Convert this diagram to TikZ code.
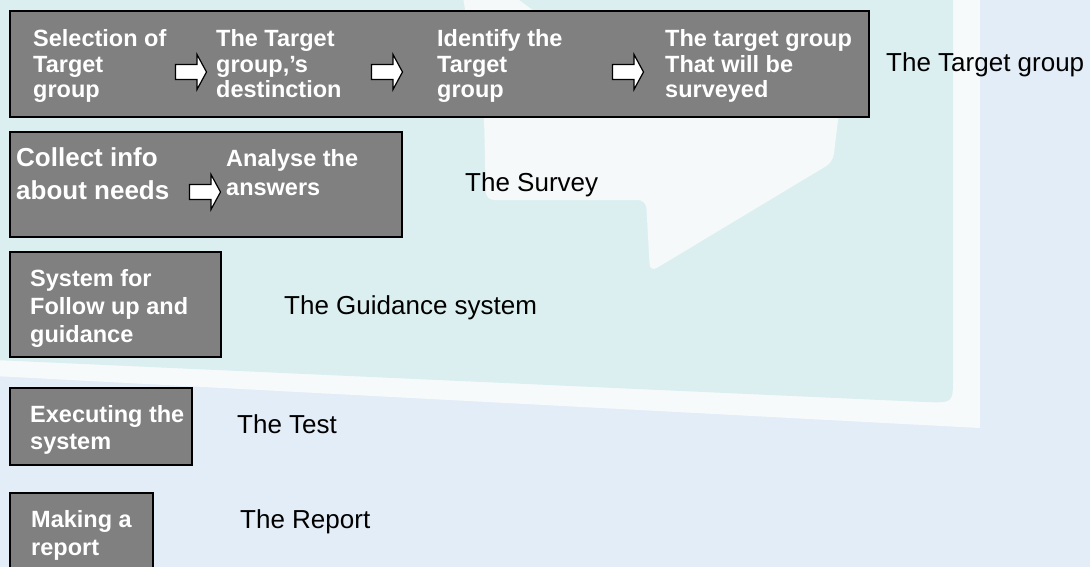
\documentclass[tikz,border=0pt]{standalone}
\usepackage{fontspec}
\setmainfont{Liberation Sans}

\definecolor{boxgray}{HTML}{808080}
\definecolor{signfill}{HTML}{DCEFF0}
\definecolor{backfill}{HTML}{E3EDF8}
\definecolor{signedge}{HTML}{F7FAFA}
\definecolor{signarrow}{HTML}{F6F9F9}

% small white block arrow between two steps
\tikzset{
  flowarr/.pic={
    \draw[black,fill=white,line width=1.2pt,line join=miter]
      (-15.5,-7.5) -- (6,-7.5) -- (6,-17.5) -- (15.5,0) -- (6,17.5) -- (6,7.5)
      -- (-15.5,7.5) -- cycle;
  }
}

\begin{document}
\begin{tikzpicture}[
  x=1pt,y=-1pt,
  stepbox/.style={draw=black,line width=1.2pt,fill=boxgray},
  steptext/.style={anchor=base west,inner sep=0pt,align=left,text=white,
    font=\bfseries\fontsize{23.5}{25.5}\selectfont},
  phasetext/.style={anchor=base west,inner sep=0pt,font=\fontsize{26}{30}\selectfont}
]
  \useasboundingbox (0,0) rectangle (1090,567);

  % backdrop: road sign with a pale arrow on it
  \fill[backfill] (0,0) rectangle (1090,567);
  \fill[signedge] (-5,-5) -- (980,-5) -- (980,428) -- (-5,376) -- cycle;
  \fill[signfill] (-5,-5) -- (953,-5) -- (953,378)
    .. controls (953,403) .. (925,402) -- (-5,360) -- cycle;
  \fill[signarrow,rounded corners=8pt] (462,-8) -- (508,-8) -- (560,30) -- (845,60)
    -- (833,162) -- (650,272) -- (646,200) -- (486,200) -- (484,117) -- cycle;

  % the five stages
  \draw[stepbox] (10,11) rectangle (869,117);
  \draw[stepbox] (10,132) rectangle (402,237);
  \draw[stepbox] (10,252) rectangle (221,357);
  \draw[stepbox] (10,388) rectangle (192,465);
  \draw[stepbox] (10,493) rectangle (153,580);

  % stage 1 (base = last line)
  \node[steptext] (sel) at (33,98) {Selection of\\Target\\group};
  \node[steptext] (dist) at (216,98) {The Target\\group,’s\\destinction};
  \node[steptext] (ident) at (437,98) {Identify the\\Target\\group};
  \node[steptext] (surv) at (665,98) {The target group\\That will be\\surveyed};
  \pic (a1) at (191,72) {flowarr};
  \pic (a2) at (387,72) {flowarr};
  \pic (a3) at (628,72) {flowarr};
  \node[phasetext] (ph1) at (886,72) {The Target group};

  % stage 2
  \node[steptext,font=\bfseries\fontsize{26}{32.5}\selectfont] (coll) at (16,199.5) {Collect info\\about needs};
  \node[steptext,font=\bfseries\fontsize{23.5}{29}\selectfont] (ans) at (226,196) {Analyse the\\answers};
  \pic (a4) at (205,192) {flowarr};
  \node[phasetext] (ph2) at (465,192) {The Survey};

  % stage 3
  \node[steptext,font=\bfseries\fontsize{23.5}{28}\selectfont] (guid) at (30,342) {System for\\Follow up and\\guidance};
  \node[phasetext] (ph3) at (284,314) {The Guidance system};

  % stage 4
  \node[steptext,font=\bfseries\fontsize{23.5}{27.5}\selectfont] (exec) at (30,449.5) {Executing the\\system};
  \node[phasetext] (ph4) at (237,433) {The Test};

  % stage 5
  \node[steptext,font=\bfseries\fontsize{23.5}{28}\selectfont] (rep) at (31,555) {Making a\\report};
  \node[phasetext] (ph5) at (240,528) {The Report};
\end{tikzpicture}
\end{document}
